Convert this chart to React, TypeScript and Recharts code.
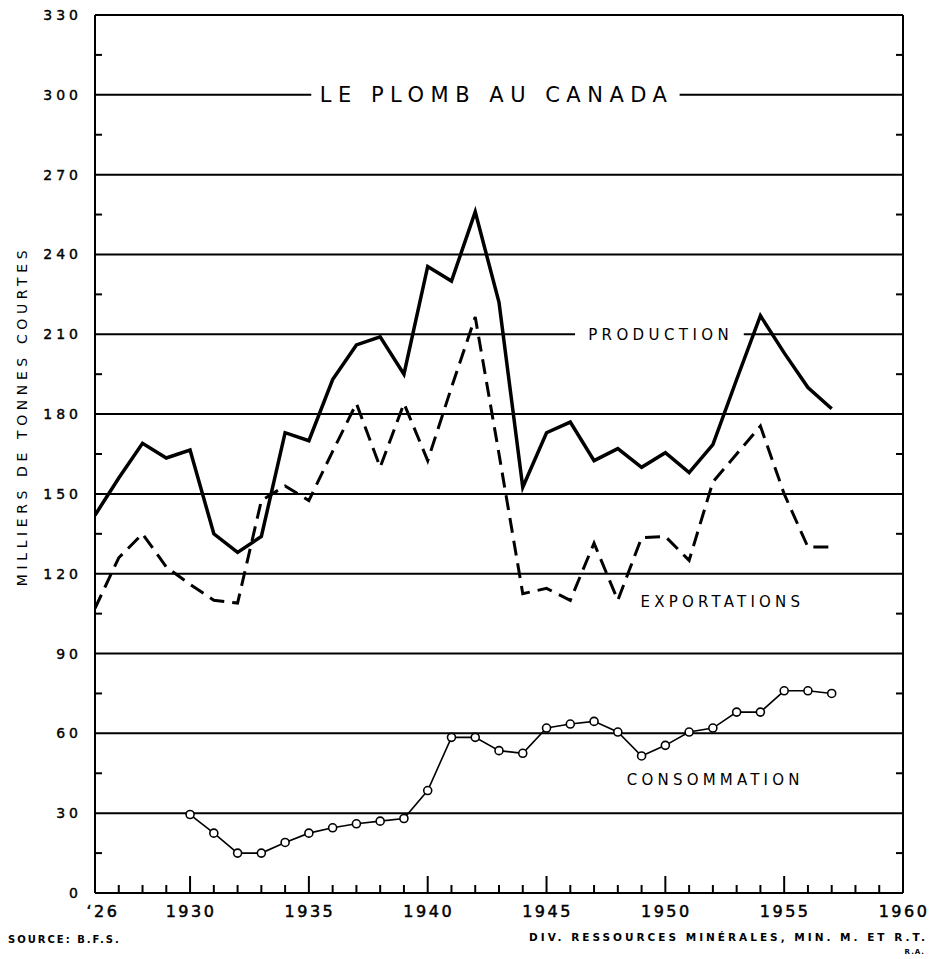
import React from 'react';
import { LineChart, Line, XAxis, YAxis, ReferenceLine, ReferenceDot } from 'recharts';

// years 1926 - 1957
const years = [
  1926, 1927, 1928, 1929, 1930, 1931, 1932, 1933, 1934, 1935, 1936,
  1937, 1938, 1939, 1940, 1941, 1942, 1943, 1944, 1945, 1946, 1947,
  1948, 1949, 1950, 1951, 1952, 1953, 1954, 1955, 1956, 1957,
];

// milliers de tonnes courtes
const production = [
  142, 156, 169, 163.5, 166.5, 135, 128, 134, 173, 170, 193,
  206, 209, 195, 235.5, 230, 256, 222, 152.5, 173, 177, 162.5,
  167, 160, 165.5, 158, 168.5, 193, 217, 203, 190, 182,
];

const exportations = [
  107, 126, 135, 122.5, 116, 110, 109, 147.5, 153, 147.5, 166,
  184, 160, 184, 162.5, 190, 216.5, 165, 112.5, 114.5, 110, 131.5,
  110, 133.5, 134, 125, 154.5, 165, 175.5, 150, 130, 130,
];

const consommation = [
  null, null, null, null, 29.5, 22.5, 15, 15, 19, 22.5, 24.5,
  26, 27, 28, 38.5, 58.5, 58.5, 53.5, 52.5, 62, 63.5, 64.5,
  60.5, 51.5, 55.5, 60.5, 62, 68, 68, 76, 76, 75,
];

const xTicks = Array.from({ length: 35 }, (_, i) => 1926 + i);
const yTicks = Array.from({ length: 23 }, (_, i) => i * 15);
const yLabelled = [0, 30, 60, 90, 120, 150, 180, 210, 240, 270, 300, 330];
const fullGrid = [30, 60, 90, 120, 150, 180, 240, 270];

const data = years.map((year, i) => ({
  year,
  production: production[i],
  exportations: exportations[i],
  consommation: consommation[i],
}));

const FONT = '"DejaVu Sans", sans-serif';

const BottomTick = (props: any) => {
  const { x, y, payload } = props;
  const v = payload.value as number;
  const major = v % 5 === 0;
  let label = '';
  if (v === 1926) label = '\u201826';
  else if (major) label = String(v);
  return (
    <g>
      <line x1={x} x2={x} y1={y} y2={y - (major ? 17 : 8)} stroke="#000" strokeWidth={2} />
      {label && (
        <text
          x={v === 1926 ? x + 8 : x + 1}
          y={y + 24}
          textAnchor="middle"
          fontFamily={FONT}
          fontSize={16}
          letterSpacing={2.5}
          fill="#000"
          stroke="#000"
          strokeWidth={0.5}
        >
          {label}
        </text>
      )}
    </g>
  );
};

const TopTick = (props: any) => {
  const { x, y, payload } = props;
  const v = payload.value as number;
  const major = v % 5 === 0;
  return <line x1={x} x2={x} y1={y} y2={y + (major ? 15 : 8)} stroke="#000" strokeWidth={2} />;
};

const LeftTick = (props: any) => {
  const { x, y, payload } = props;
  const v = payload.value as number;
  if (v % 30 === 15) {
    return <line x1={x} x2={x + 7} y1={y} y2={y} stroke="#000" strokeWidth={2} />;
  }
  return (
    <text
      x={x - 13}
      y={y + 5}
      textAnchor="end"
      fontFamily={FONT}
      fontSize={14}
      letterSpacing={4}
      fill="#000"
      stroke="#000"
      strokeWidth={0.4}
    >
      {yLabelled.includes(v) ? String(v) : ''}
    </text>
  );
};

const RightTick = (props: any) => {
  const { x, y, payload } = props;
  const v = payload.value as number;
  if (v % 30 !== 15) return <g />;
  return <line x1={x} x2={x - 7} y1={y} y2={y} stroke="#000" strokeWidth={2} />;
};

const textLabel = (value: string, size: number, spacing: number) => (p: any) => (
  <text
    x={p.cx}
    y={p.cy + size * 0.36}
    textAnchor="middle"
    fontFamily={FONT}
    fontSize={size}
    letterSpacing={spacing}
    fill="#000"
  >
    {value}
  </text>
);

const OpenDot = (p: any) => {
  if (p.value == null || p.cy == null) return <g key={p.key} />;
  return <circle key={p.key} cx={p.cx} cy={p.cy} r={4} fill="#fff" stroke="#000" strokeWidth={1.6} />;
};

export default function App() {
  return (
    <div style={{ position: 'absolute', left: 0, top: 0, width: 929, height: 959, background: '#fff' }}>
      <LineChart
        width={929}
        height={959}
        data={data}
        margin={{ top: 10, right: 16, bottom: 36, left: 35 }}
      >
        <XAxis
          dataKey="year"
          type="number"
          domain={[1926, 1960]}
          ticks={xTicks}
          interval={0}
          allowDataOverflow
          height={30}
          tickSize={0}
          tickMargin={0}
          axisLine={{ stroke: '#000', strokeWidth: 2 }}
          tickLine={false}
          tick={<BottomTick />}
        />
        <XAxis
          xAxisId="top"
          orientation="top"
          type="number"
          domain={[1926, 1960]}
          ticks={xTicks}
          interval={0}
          allowDataOverflow
          height={5}
          tickSize={0}
          tickMargin={0}
          axisLine={{ stroke: '#000', strokeWidth: 2 }}
          tickLine={false}
          tick={<TopTick />}
        />
        <YAxis
          type="number"
          domain={[0, 330]}
          ticks={yTicks}
          interval={0}
          allowDataOverflow
          width={60}
          tickSize={0}
          tickMargin={0}
          axisLine={{ stroke: '#000', strokeWidth: 2 }}
          tickLine={false}
          tick={<LeftTick />}
        />
        <YAxis
          yAxisId="right"
          orientation="right"
          type="number"
          domain={[0, 330]}
          ticks={yTicks}
          interval={0}
          allowDataOverflow
          width={10}
          tickSize={0}
          tickMargin={0}
          axisLine={{ stroke: '#000', strokeWidth: 2 }}
          tickLine={false}
          tick={<RightTick />}
        />

        {fullGrid.map((v) => (
          <ReferenceLine key={v} y={v} stroke="#000" strokeWidth={2} />
        ))}
        <ReferenceLine segment={[{ x: 1926, y: 300 }, { x: 1935.1, y: 300 }]} stroke="#000" strokeWidth={2} />
        <ReferenceLine segment={[{ x: 1950.6, y: 300 }, { x: 1960, y: 300 }]} stroke="#000" strokeWidth={2} />
        <ReferenceLine segment={[{ x: 1926, y: 210 }, { x: 1946.2, y: 210 }]} stroke="#000" strokeWidth={2} />
        <ReferenceLine segment={[{ x: 1953.3, y: 210 }, { x: 1960, y: 210 }]} stroke="#000" strokeWidth={2} />

        <ReferenceDot x={1942.9} y={300} r={0} shape={textLabel('LE PLOMB AU CANADA', 21, 6.5)} />
        <ReferenceDot x={1949.8} y={210} r={0} shape={textLabel('PRODUCTION', 15, 4.4)} />
        <ReferenceDot x={1952.4} y={109.5} r={0} shape={textLabel('EXPORTATIONS', 15, 4.2)} />
        <ReferenceDot x={1952.1} y={42.5} r={0} shape={textLabel('CONSOMMATION', 15, 4.2)} />

        <Line
          type="linear"
          dataKey="production"
          stroke="#000"
          strokeWidth={3.5}
          dot={false}
          isAnimationActive={false}
        />
        <Line
          type="linear"
          dataKey="exportations"
          stroke="#000"
          strokeWidth={3}
          strokeDasharray="15 8"
          dot={false}
          isAnimationActive={false}
        />
        <Line
          type="linear"
          dataKey="consommation"
          stroke="#000"
          strokeWidth={1.6}
          dot={<OpenDot />}
          connectNulls={false}
          isAnimationActive={false}
        />
      </LineChart>

      <svg
        width={929}
        height={959}
        style={{ position: 'absolute', left: 0, top: 0, pointerEvents: 'none' }}
      >
        <text
          transform="translate(27,416) rotate(-90)"
          textAnchor="middle"
          fontFamily={FONT}
          fontSize={14}
          letterSpacing={4.6}
          fill="#000"
        >
          MILLIERS DE TONNES COURTES
        </text>
        <text x={8} y={943} fontFamily={FONT} fontSize={10} fontWeight="bold" letterSpacing={2} fill="#000">
          SOURCE: B.F.S.
        </text>
        <text x={928} y={941} textAnchor="end" fontFamily={FONT} fontSize={10.5} fontWeight="bold" letterSpacing={3} fill="#000">
          DIV. RESSOURCES MINÉRALES, MIN. M. ET R.T.
        </text>
        <text x={925} y={954} textAnchor="end" fontFamily={FONT} fontSize={7} fontWeight="bold" letterSpacing={1} fill="#000">
          R.A.
        </text>
      </svg>
    </div>
  );
}
